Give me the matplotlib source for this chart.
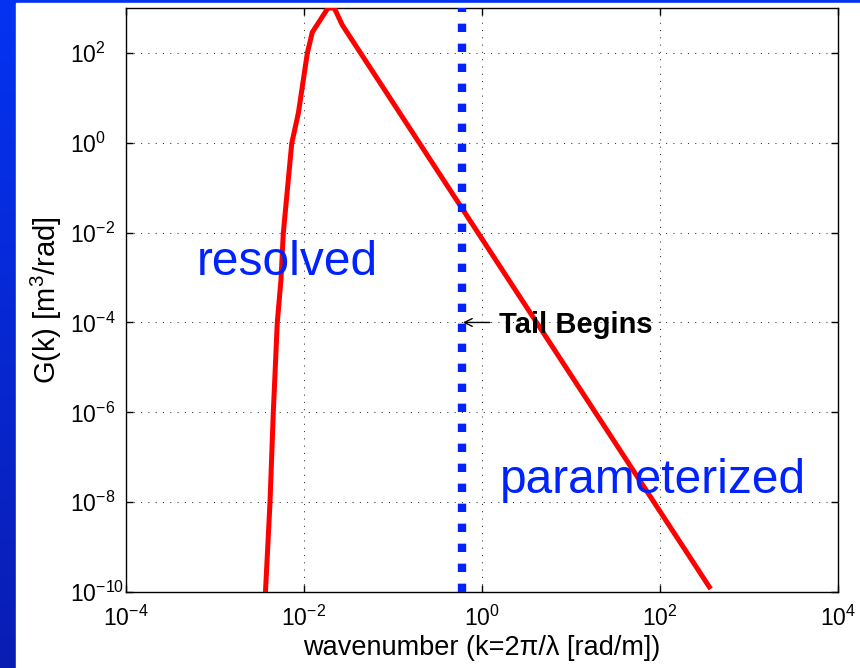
import matplotlib
matplotlib.use('Agg')
import matplotlib.pyplot as plt
import numpy as np
from matplotlib.colors import LinearSegmentedColormap
from matplotlib.patches import Rectangle

plt.rcParams['font.family'] = ['Liberation Sans', 'DejaVu Sans']
plt.rcParams['mathtext.fontset'] = 'custom'
plt.rcParams['mathtext.rm'] = 'Liberation Sans'
plt.rcParams['mathtext.it'] = 'Liberation Sans:italic'
plt.rcParams['mathtext.bf'] = 'Liberation Sans:bold'

# spectrum G(k), rising edge, peak and k^-3 tail
k = [0.00369, 0.00415, 0.00452, 0.00501, 0.00551, 0.00585, 0.00728, 0.00863,
     0.01089, 0.01239, 0.0186, 0.0219, 0.0269, 358.0]
G = [1e-10, 1e-8, 1e-6, 1e-4, 8.8e-4, 9.6e-3, 0.97, 4.5,
     98.0, 288.0, 1000.0, 1000.0, 419.0, 1.3e-10]

k_tail = 0.6          # where the parameterized tail starts
y_range = [1e-10, 1e3]
x_range = [1e-4, 1e4]
x_ticks = [1e-4, 1e-2, 1e0, 1e2, 1e4]
y_ticks = [1e-10, 1e-8, 1e-6, 1e-4, 1e-2, 1e0, 1e2]

fig = plt.figure(figsize=(8.6, 6.68), dpi=100)

# slide background: blue gradient with a white panel
bg = fig.add_axes([0, 0, 1, 1], zorder=-2)
slide = LinearSegmentedColormap.from_list('slide', ['#0a1db3', '#0433f2'])
bg.imshow(np.linspace(0, 1, 256).reshape(-1, 1), cmap=slide, aspect='auto',
          origin='lower', extent=[0, 1, 0, 1])
bg.add_patch(Rectangle((16 / 860, 0), 1, 1 - 3 / 668, color='white'))
bg.set_xlim(0, 1)
bg.set_ylim(0, 1)
bg.axis('off')

ax = fig.add_axes([126 / 860, 1 - 592 / 668, 712 / 860, 584 / 668])
ax.set_xscale('log')
ax.set_yscale('log')

ax.plot(k, G, color='red', lw=3.6, solid_joinstyle='miter', zorder=3)
ax.plot([k_tail, k_tail], y_range, color='#0022ff', lw=6,
        linestyle=(0, (1, 1.4)), zorder=3)

ax.set_xlim(x_range)
ax.set_ylim(y_range)
ax.set_xticks(x_ticks)
ax.set_yticks(y_ticks)
ax.minorticks_off()

ax.grid(True, which='major', color='0.2', lw=0.75, linestyle=(0, (1, 6)))
ax.set_axisbelow(True)
ax.tick_params(which='both', direction='in', top=True, right=True,
               length=5, width=1, labelsize=16.5)
ax.tick_params(axis='x', pad=10)
ax.tick_params(axis='y', pad=40)
for lbl in ax.get_yticklabels():
    lbl.set_horizontalalignment('left')
for s in ax.spines.values():
    s.set_linewidth(1.0)

ax.set_xlabel('wavenumber (k=2π/λ [rad/m])', fontsize=19.5, labelpad=3)
ax.set_ylabel(r'G(k) [m$^3$/rad]', fontsize=21, va='center')
ax.yaxis.set_label_coords(-0.112, 0.5)

ax.text(6.3e-4, 1.14e-3, 'resolved', color='#0022ff', fontsize=34.5,
        va='baseline', ha='left')
ax.text(1.59, 1.6e-8, 'parameterized', color='#0022ff', fontsize=34.5,
        va='baseline', ha='left')
ax.annotate('', xy=(0.61, 1e-4), xytext=(1.23, 1e-4),
            arrowprops=dict(arrowstyle='->', lw=1, color='black',
                            mutation_scale=14, shrinkA=0, shrinkB=0))
ax.text(1.55, 5.8e-5, 'Tail Begins', fontsize=21, fontweight='bold',
        va='baseline', ha='left')

fig.savefig('out.png', dpi=100)
